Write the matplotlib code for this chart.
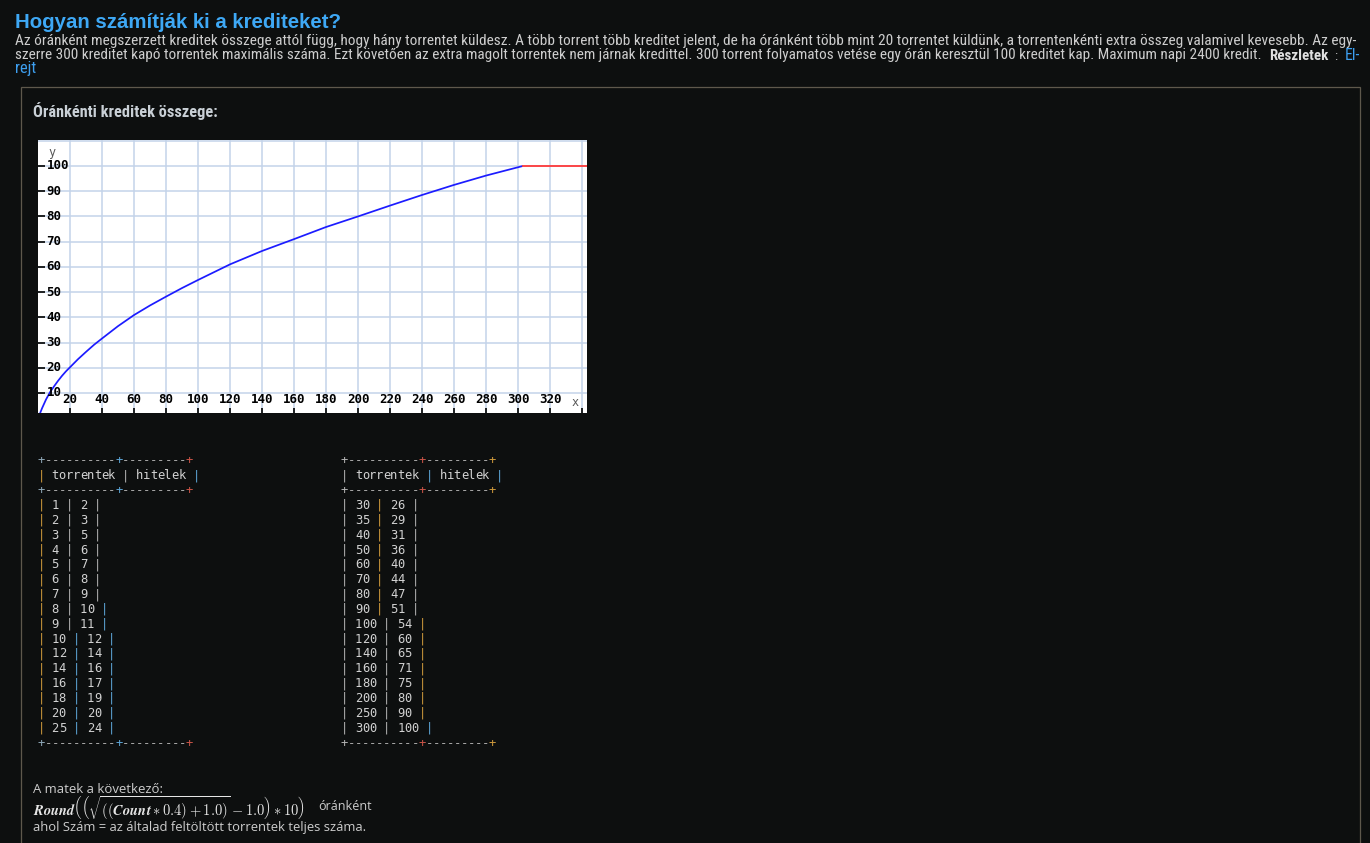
import matplotlib
matplotlib.use("Agg")
import matplotlib.pyplot as plt
from matplotlib.patches import Rectangle
import logging
logging.getLogger("matplotlib.font_manager").setLevel(logging.ERROR)

# ---------------- data ----------------
curve_x = [0, 1.25, 2.5, 5, 7.5, 10, 12.5, 15, 17.5, 20, 25, 30, 35, 40, 50, 60, 70, 80,
           90, 100, 120, 140, 160, 180, 200, 220, 240, 260, 280, 303]
curve_y = [0, 1.9, 3.9, 7.4, 10.3, 12.6, 14.8, 16.8, 18.6, 20.2, 23.4, 26.3, 29.1, 31.6,
           36.5, 40.9, 44.7, 48.2, 51.6, 54.8, 61.0, 66.3, 71.0, 75.8, 80.0, 84.3, 88.5,
           92.5, 96.2, 100.0]
cap_x = [303, 343.1]
cap_y = [100, 100]

x_tick_labels = list(range(20, 321, 20))
y_tick_labels = list(range(10, 101, 10))

t1_torrents = [1, 2, 3, 4, 5, 6, 7, 8, 9, 10, 12, 14, 16, 18, 20, 25]
t1_credits = [2, 3, 5, 6, 7, 8, 9, 10, 11, 12, 14, 16, 17, 19, 20, 24]
t2_torrents = [30, 35, 40, 50, 60, 70, 80, 90, 100, 120, 140, 160, 180, 200, 250, 300]
t2_credits = [26, 29, 31, 36, 40, 44, 47, 51, 54, 60, 65, 71, 75, 80, 90, 100]

title = "Hogyan számítják ki a krediteket?"
para1 = ("Az óránként megszerzett kreditek összege attól függ, hogy hány torrentet küldesz. "
         "A több torrent több kreditet jelent, de ha óránként több mint 20 torrentet küldünk, "
         "a torrentenkénti extra összeg valamivel kevesebb. Az egy-")
para2 = ("szerre 300 kreditet kapó torrentek maximális száma. Ezt követően az extra magolt "
         "torrentek nem járnak kredittel. 300 torrent folyamatos vetése egy órán keresztül "
         "100 kreditet kap. Maximum napi 2400 kredit.")
subtitle = "Óránkénti kreditek összege:"

# ---------------- figure ----------------
W, H = 1370, 843
BG = "#0d0f0f"
TXT = "#cdcdcd"
LINK = "#3d9ff0"
fig = plt.figure(figsize=(W / 100, H / 100), dpi=100, facecolor=BG)
renderer = fig.canvas.get_renderer()


def fx(x):
    return x / W


def fy(y):
    return 1 - y / H


def put(x, y, s, width=None, size0=10, **kw):
    t = fig.text(fx(x), fy(y), s, fontsize=size0, **kw)
    if width is not None:
        w = t.get_window_extent(renderer).width
        t.set_fontsize(size0 * width / w)
    return t


SANS_N = ["Roboto Condensed", "DejaVu Sans Condensed", "Liberation Sans Narrow",
          "Liberation Sans", "DejaVu Sans"]

# header texts
put(15, 27.5, title, width=327, family=["Liberation Sans", "DejaVu Sans"],
    weight="bold", color="#3ea8f5", va="baseline")
put(15, 45.5, para1, width=1336, family=SANS_N, color=TXT, va="baseline")
put(15, 59.5, para2, width=1238, family=SANS_N, color=TXT, va="baseline")
put(1269, 59.5, "Részletek", width=59, family=SANS_N, weight="bold",
    color="#e0e0e0", va="baseline")
put(1334.5, 59.5, ":", family=SANS_N, size0=9.6, color=TXT, va="baseline")
put(1344.5, 59.5, "El-", width=15.5, family=SANS_N, color=LINK, va="baseline")
put(15, 73.5, "rejt", width=21, family=SANS_N, color=LINK, va="baseline")

# content box
fig.add_artist(Rectangle((fx(21), fy(850)), (1360 - 21) / W, (850 - 86.5) / H,
                         transform=fig.transFigure, facecolor="none",
                         edgecolor="#5e584c", linewidth=0.9))

put(33, 117, subtitle, width=184, family=SANS_N, weight="bold",
    color="#c9d0d6", va="baseline")

# ---------------- chart ----------------
L, R, T, B = 38, 587, 140, 413
ax = fig.add_axes([fx(L), fy(B), (R - L) / W, (B - T) / H])
ax.set_facecolor("white")
ax.set_xlim(0, (R - L) / 1.6)
y_per_px = 1 / 2.522
ax.set_ylim((418.2 - B) * y_per_px, (418.2 - T) * y_per_px)
for s in ax.spines.values():
    s.set_visible(False)

GRID = "#c3d3ea"
for gx in range(20, 341, 20):
    ax.axvline(gx, color=GRID, lw=1.1, zorder=0.5)
for gy in range(10, 111, 10):
    ax.axhline(gy, color=GRID, lw=1.1, zorder=0.5)

ax.set_xticks(range(20, 341, 20))
ax.set_yticks(y_tick_labels)
ax.tick_params(axis="y", direction="in", length=5, width=1.2, color="black",
               labelleft=False)
ax.tick_params(axis="x", direction="in", length=3.6, width=1.2, color="black",
               labelbottom=False)

ax.plot(curve_x, curve_y, color="#1c1cff", lw=1.25, zorder=3, solid_capstyle="butt")
ax.plot(cap_x, cap_y, color="#ff3a3a", lw=1.3, zorder=3)

MONO = "DejaVu Sans Mono"
x_lab_y = (418.2 - 399.5) * y_per_px
for v in x_tick_labels:
    ax.text(v, x_lab_y, str(v), ha="center", va="center", family=MONO,
            weight="bold", fontsize=9.0, color="black", zorder=4)
y_lab_x = (46.5 - L) / 1.6
for v in y_tick_labels:
    ax.text(y_lab_x, v, str(v), ha="left", va="center", family=MONO,
            weight="bold", fontsize=9.0, color="black", zorder=4)
ax.text((52 - L) / 1.6, (418.2 - 153) * y_per_px, "y", ha="center", va="center",
        family=MONO, fontsize=8.5, color="#555555")
ax.text((575 - L) / 1.6, (418.2 - 402) * y_per_px, "x", ha="center", va="center",
        family=MONO, fontsize=8.5, color="#555555")

# ---------------- tables ----------------
CW = 7.05
LINE = 14.85
FS = 8.7
ORANGE, GRAYP, BLUE, RED = "#cf9a3c", "#b4b4b4", "#5ea6d8", "#cc5548"

T1_COLORS = {"|": {0: ORANGE, 4: GRAYP, 5: BLUE, 8: GRAYP, 9: BLUE, 10: BLUE,
                   12: GRAYP, 22: BLUE},
             "+": {0: "#8fa8b8", 11: BLUE, 21: RED}}
T2_COLORS = {"|": {0: GRAYP, 5: ORANGE, 6: GRAYP, 10: GRAYP, 11: ORANGE, 12: BLUE,
                   22: BLUE},
             "+": {0: GRAYP, 11: RED, 21: ORANGE}}


def table_lines(torr, cred):
    border = "+----------+---------+"
    lines = [border, "| torrentek | hitelek |", border]
    for t, c in zip(torr, cred):
        lines.append(f"| {t} | {c} |")
    lines.append(border)
    return lines


def draw_table(x0, base0, torr, cred, cmap):
    for i, line in enumerate(table_lines(torr, cred)):
        yb = base0 + i * LINE
        for c, ch in enumerate(line):
            if ch == " ":
                continue
            xl = x0 + c * CW
            if ch in "|+":
                col = cmap[ch].get(c, GRAYP)
            elif ch == "-":
                col = "#ababab"
            else:
                col = "#d2d2d2"
            fig.text(fx(xl + CW / 2), fy(yb), ch, ha="center", va="baseline",
                     family=MONO, fontsize=FS, color=col)


draw_table(37.6, 464.4, t1_torrents, t1_credits, T1_COLORS)
draw_table(341.0, 464.4, t2_torrents, t2_credits, T2_COLORS)

# ---------------- bottom text ----------------
plt.rcParams["mathtext.fontset"] = "cm"
BOT = ["Open Sans", "DejaVu Sans"]
put(33, 793, "A matek a következő:", width=129, family=BOT, color=TXT, va="baseline")


def formula_text(word_cmd):
    return (r"$" + word_cmd + r"{Round}\left(\left(\sqrt{((" + word_cmd +
            r"{Count}\ast\mathbf{0.4})+\mathbf{1.0})}-\mathbf{1.0}\right)"
            r"\ast\mathbf{10}\right)$")


try:
    ft = put(33, 808.5, formula_text(r"\mathbfit"), width=274, color="#e6e6e6",
             va="center")
except Exception:
    for t in list(fig.texts):
        if t.get_text().startswith(r"$\mathbfit"):
            t.remove()
    ft = put(33, 808.5, formula_text(r"\mathbf"), width=274, color="#e6e6e6",
             va="center")
put(318, 810, "óránként", width=53, family=BOT, color=TXT, va="baseline")
put(33, 831, "ahol Szám = az általad feltöltött torrentek teljes száma.", width=330,
    family=BOT, color=TXT, va="baseline")

fig.savefig("out.png", dpi=100, facecolor=BG)
